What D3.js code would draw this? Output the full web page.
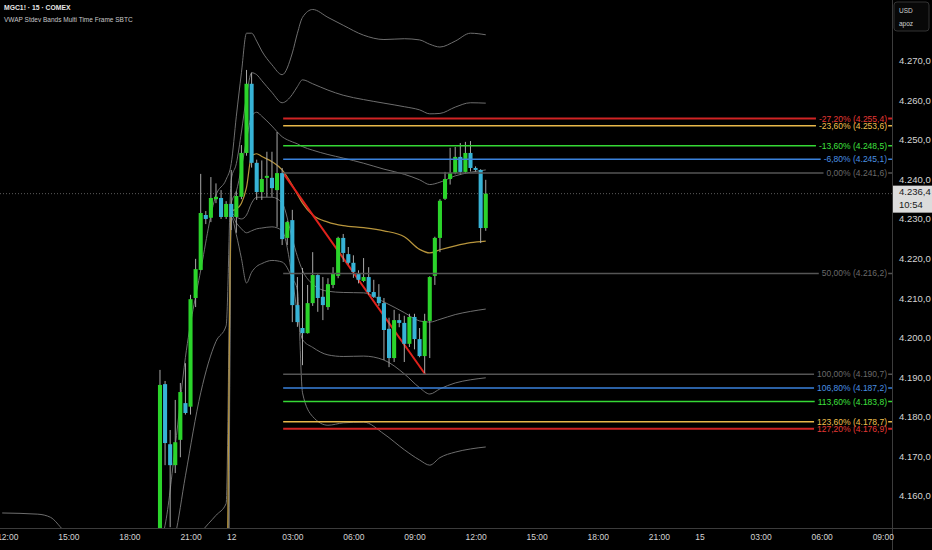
<!DOCTYPE html>
<meta charset="utf-8">
<title>MGC1! 15 COMEX</title>
<style>

body {
  margin: 0;
  background: #000;
}

svg {
  display: block;
}

text {
  font-family: "Liberation Sans", Arial, sans-serif;
}

</style>
<body>

<div id="chart"></div>

<script src="https://cdn.jsdelivr.net/npm/d3@7"></script>
<script>
  // 15 minute bars, bar 0 = 19:30 on the 11th, bar 14 = 00:00 on the 12th
  var candleOpen = [4140, 4188.2, 4173.0, 4167.7, 4174.1, 4183.4, 4182.5, 4210.0, 4217.1, 4231.0,
    4230.3, 4235.0, 4235.3, 4230.5, 4233.8, 4230.5, 4235.6, 4246.7, 4264.2, 4244.2,
    4236.8, 4240.4, 4240.4, 4237.3, 4241.6, 4225.2, 4229.7, 4208.2, 4202.4, 4201.1,
    4208.7, 4215.8, 4210.3, 4207.7, 4213.3, 4215.6, 4225.2, 4221.1, 4218.9, 4216.1,
    4214.3, 4215.3, 4211.5, 4210.3, 4208.7, 4202.2, 4194.8, 4204.4, 4203.7, 4198.4,
    4205.2, 4199.6, 4195.3, 4204.2, 4215.6, 4225.2, 4235.1, 4240.1, 4241.6, 4245.7,
    4241.9, 4246.7, 4242.9, 4242.4, 4227.7];
  var candleHigh = [4191.8, 4189.0, 4176.6, 4184.2, 4188.5, 4193.5, 4210.8, 4219.9, 4241.4, 4232.0,
    4240.6, 4239.0, 4237.3, 4234.5, 4242.4, 4237.0, 4248.7, 4267.7, 4267.0, 4245.0,
    4244.8, 4247.0, 4247.0, 4252.0, 4242.9, 4229.5, 4232.3, 4215.3, 4217.6, 4213.3,
    4221.6, 4216.0, 4215.3, 4215.0, 4217.8, 4225.5, 4226.2, 4222.9, 4220.8, 4217.0,
    4220.1, 4217.8, 4214.6, 4213.5, 4210.0, 4205.0, 4207.0, 4206.0, 4205.5, 4206.0,
    4206.0, 4202.4, 4206.0, 4215.5, 4225.5, 4235.0, 4241.9, 4248.0, 4248.2, 4249.2,
    4249.5, 4249.7, 4243.3, 4242.6, 4239.9];
  var candleLow = [4130, 4167.7, 4152.0, 4165.7, 4169.7, 4180.5, 4180.5, 4207.7, 4217.0, 4228.7,
    4229.2, 4234.0, 4230.0, 4230.0, 4227.2, 4226.5, 4235.0, 4246.0, 4243.0, 4234.8,
    4234.8, 4235.6, 4235.6, 4228.0, 4223.4, 4223.4, 4203.9, 4202.7, 4193.0, 4201.0,
    4208.0, 4206.5, 4204.4, 4207.0, 4212.5, 4215.0, 4219.1, 4218.5, 4215.1, 4213.7,
    4214.0, 4210.8, 4210.0, 4208.0, 4194.3, 4192.5, 4193.8, 4202.6, 4193.8, 4197.6,
    4197.0, 4195.0, 4191.0, 4194.8, 4213.3, 4221.6, 4234.8, 4238.7, 4241.3, 4241.3,
    4241.5, 4242.0, 4242.0, 4223.9, 4227.0];
  var candleClose = [4188.0, 4173.3, 4167.7, 4173.5, 4186.2, 4180.9, 4209.7, 4217.3, 4231.5, 4230.0,
    4235.3, 4235.6, 4230.5, 4233.8, 4230.5, 4235.8, 4246.7, 4264.2, 4244.2, 4236.8,
    4240.1, 4240.9, 4237.8, 4241.6, 4224.9, 4229.2, 4208.2, 4203.9, 4201.1, 4208.7,
    4215.8, 4210.0, 4208.2, 4213.5, 4216.1, 4225.2, 4221.4, 4218.9, 4216.6, 4214.6,
    4215.3, 4211.5, 4210.3, 4208.7, 4201.9, 4194.8, 4204.4, 4203.7, 4198.4, 4205.2,
    4199.6, 4195.3, 4204.2, 4215.3, 4225.2, 4234.6, 4240.1, 4241.6, 4245.7, 4241.9,
    4246.7, 4242.9, 4242.4, 4227.7, 4236.4];

  // vwap and stdev bands, read at these bar indexes (session resets at bar 14)
  var bandIdx = [-31, -24, -21.5, -19, -10, 0, 1, 3, 5, 8, 11, 13,
    14, 15, 16, 17, 18, 19, 20, 22, 24, 26, 27, 28, 30, 33, 36, 40, 44, 48, 51, 53, 55, 58, 61, 64];
  var vwap = [4080, 4082, 4083, 4084, 4090, 4100, 4103, 4108, 4113, 4118, 4123, 4126,
    4232, 4232.5, 4234, 4238, 4246, 4246.5, 4245.8, 4244.5, 4242.4, 4238.5, 4236.2, 4234, 4231,
    4229.2, 4228.3, 4227.8, 4227, 4225.5, 4222.3, 4221.4, 4222.2, 4223.2, 4224, 4224.4];
  var upper1 = [4115, 4116, 4117, 4117, 4122, 4132, 4135, 4140, 4144, 4150.5, 4155, 4158,
    4234, 4237, 4243, 4250, 4256, 4257, 4256, 4253.5, 4250.8, 4249.5, 4249, 4248.3, 4247.4,
    4246.3, 4245.4, 4244.1, 4242.6, 4241.3, 4239.9, 4238.7, 4239.3, 4240.9, 4241.8, 4242.4];
  var upper2 = [4140, 4141, 4141, 4141, 4142, 4140, 4143, 4150, 4165, 4186, 4199, 4203,
    4240, 4244, 4252, 4261, 4267, 4266.5, 4265, 4262, 4259.4, 4261.5, 4263.5, 4265.2, 4264.2,
    4262.6, 4261.3, 4260.2, 4259.3, 4258.4, 4257.6, 4256.6, 4256.7, 4258.3, 4259.4, 4259.3];
  var upper3 = [4155.6, 4155.3, 4154.5, 4151.3, 4144, 4148, 4152.5, 4172.5, 4195, 4217, 4236, 4240,
    4244, 4256, 4267, 4277, 4277, 4275, 4272.5, 4269, 4266.5, 4272, 4277, 4281, 4283,
    4281, 4279, 4276.5, 4275.4, 4275.6, 4275.3, 4274.2, 4273.5, 4275, 4277, 4276.6];
  var lower1 = [4040, 4042, 4043, 4045, 4052, 4065, 4068, 4072, 4078, 4084, 4090, 4094,
    4231.5, 4230.5, 4230, 4231, 4234, 4235.5, 4235.5, 4235.5, 4234, 4225, 4220.5, 4217, 4213.5,
    4211.7, 4211.4, 4211.3, 4209, 4206.3, 4204.2, 4203.9, 4204.6, 4205.8, 4206.6, 4207.2];
  var lower2 = [4000, 4002, 4003, 4005, 4015, 4030, 4033, 4038, 4042, 4050, 4056, 4060,
    4231, 4229, 4227.5, 4226.5, 4227, 4227.5, 4227.7, 4228, 4227, 4215, 4206, 4199.5, 4197.5,
    4195.6, 4195.2, 4195.3, 4194.3, 4190.8, 4187.3, 4185.7, 4187, 4188.5, 4189.3, 4189.8];
  var lower3 = [3960, 3962, 3963, 3965, 3978, 3995, 3998, 4004, 4008, 4016, 4022, 4026,
    4230.5, 4226, 4220, 4213.8, 4216.5, 4218, 4218.7, 4219.5, 4219.1, 4215, 4212, 4186, 4180,
    4177.8, 4178.4, 4178.6, 4175.6, 4171.6, 4169, 4167.7, 4169.6, 4171, 4171.8, 4172.3];

  // fib retracement drawn from bar 24.2 (4241,6) down to bar 52.1 (4190,7)
  var fibRatios = [-0.272, -0.236, -0.136, -0.068, 0, 0.5, 1, 1.068, 1.136, 1.236, 1.272];
  var fibPrices = [4255.4, 4253.6, 4248.5, 4245.1, 4241.6, 4216.2, 4190.7, 4187.2, 4183.8, 4178.7, 4176.9];
  var fibAnchorIdx = [24.2, 52.1];
  var fibAnchorPrice = [4241.6, 4190.7];

  var priceTicks = [4160, 4170, 4180, 4190, 4200, 4210, 4220, 4230, 4240, 4250, 4260, 4270];
  var timeTickIdx = [-30, -18, -6, 6, 14, 26, 38, 50, 62, 74, 86, 98, 106, 118, 130, 142];
  var timeTickLabels = ["12:00", "15:00", "18:00", "21:00", "12", "03:00", "06:00", "09:00",
    "12:00", "15:00", "18:00", "21:00", "15", "03:00", "06:00", "09:00"];
  var lastPrice = 4236.4;
  var barCountdown = "10:54";

  var width = 932,
      height = 550,
      plotW = 892,
      plotH = 528;

  var loc = d3.formatLocale({decimal: ",", thousands: ".", grouping: [3], currency: ["", ""], minus: "-"});
  var fmtPrice = loc.format(",.1f"),
      fmtPct = loc.format(".2f");

  var x = d3.scaleLinear().domain([-31.43, 143.81]).range([0, plotW]);
  var y = d3.scaleLinear().domain([4151.8, 4285.4]).range([plotH, 0]);
  var step = x(1) - x(0);

  var svg = d3.select("#chart").append("svg")
      .attr("width", width)
      .attr("height", height)
      .style("background", "#000");

  svg.append("clipPath").attr("id", "plot")
    .append("rect").attr("width", plotW).attr("height", plotH);

  var plot = svg.append("g").attr("clip-path", "url(#plot)");

  // bands
  var bandLine = d3.line()
      .x(function(d, i) { return x(bandIdx[i]); })
      .y(function(d) { return y(d); })
      .curve(d3.curveMonotoneX);

  [upper3, upper2, upper1, lower1, lower2, lower3].forEach(function(s) {
    plot.append("path")
        .attr("d", bandLine(s))
        .attr("fill", "none")
        .attr("stroke", "#6e6e6e")
        .attr("stroke-width", 1);
  });

  plot.append("path")
      .attr("d", bandLine(vwap))
      .attr("fill", "none")
      .attr("stroke", "#b8953c")
      .attr("stroke-width", 1.2);

  // last price dotted line
  plot.append("line")
      .attr("x1", 0).attr("x2", plotW)
      .attr("y1", y(lastPrice)).attr("y2", y(lastPrice))
      .attr("stroke", "#5a5a5a")
      .attr("stroke-dasharray", "1,2");

  // fib levels
  var fibPalette = {"0.272": "#d02424", "0.236": "#e8b84a", "0.136": "#35d835", "0.068": "#3a82dc",
    "0": "#555555", "0.5": "#555555", "1": "#555555"};
  var fibText = {"0.272": "#e53935", "0.236": "#f2c14e", "0.136": "#3fe03f", "0.068": "#4a90e2",
    "0": "#6a6a6a", "0.5": "#6a6a6a", "1": "#6a6a6a"};
  function fibKey(r) {
    var k = Math.abs(r) > 1 ? Math.abs(r) - 1 : Math.abs(r);
    k = Math.round(k * 1000) / 1000;
    if (r === 1) k = 1;
    return String(k);
  }

  var fibG = svg.append("g");
  fibRatios.forEach(function(r, i) {
    var yy = y(fibPrices[i]), key = fibKey(r);
    fibG.append("line")
        .attr("x1", x(fibAnchorIdx[0])).attr("x2", plotW)
        .attr("y1", yy).attr("y2", yy)
        .attr("stroke", fibPalette[key])
        .attr("stroke-width", key === "0.272" ? 2 : 1.5);
  });
  fibRatios.forEach(function(r, i) {
    var yy = y(fibPrices[i]), key = fibKey(r);
    var t = fibG.append("text")
        .attr("x", plotW - 5)
        .attr("y", yy)
        .attr("dy", "0.35em")
        .attr("text-anchor", "end")
        .attr("font-size", 8.5)
        .attr("fill", fibText[key])
        .text(fmtPct(r * 100) + "% (" + fmtPrice(fibPrices[i]) + ")");
    var b = t.node().getBBox();
    fibG.insert("rect", function() { return t.node(); })
        .attr("x", b.x - 3).attr("y", yy - 1.5)
        .attr("width", b.width + 4).attr("height", 3)
        .attr("fill", "#000");
  });

  // trend line between the fib anchors
  plot.append("line")
      .attr("x1", x(fibAnchorIdx[0])).attr("y1", y(fibAnchorPrice[0]))
      .attr("x2", x(fibAnchorIdx[1])).attr("y2", y(fibAnchorPrice[1]))
      .attr("stroke", "#e0221c")
      .attr("stroke-width", 2);

  // candles
  var bars = d3.range(candleOpen.length);
  plot.selectAll("line.wick")
    .data(bars)
    .join("line")
      .attr("class", "wick")
      .attr("x1", function(i) { return x(i); })
      .attr("x2", function(i) { return x(i); })
      .attr("y1", function(i) { return y(candleHigh[i]); })
      .attr("y2", function(i) { return y(candleLow[i]); })
      .attr("stroke", "#a8a8a8")
      .attr("stroke-width", 1);

  plot.selectAll("rect.body")
    .data(bars)
    .join("rect")
      .attr("class", "body")
      .attr("x", function(i) { return x(i) - step * 0.4; })
      .attr("width", step * 0.8)
      .attr("y", function(i) { return y(Math.max(candleOpen[i], candleClose[i])); })
      .attr("height", function(i) { return Math.max(1, Math.abs(y(candleOpen[i]) - y(candleClose[i]))); })
      .attr("fill", function(i) { return candleClose[i] >= candleOpen[i] ? "#2bd42b" : "#37b3d6"; });

  // axes
  svg.append("line")
      .attr("x1", 0).attr("x2", width)
      .attr("y1", plotH + 0.5).attr("y2", plotH + 0.5)
      .attr("stroke", "#3c3c3c");
  svg.append("line")
      .attr("x1", plotW + 0.5).attr("x2", plotW + 0.5)
      .attr("y1", 0).attr("y2", height)
      .attr("stroke", "#3c3c3c");

  var yAxis = svg.append("g")
      .attr("transform", "translate(" + plotW + ",0)")
      .call(d3.axisRight(y).tickValues(priceTicks).tickSize(0).tickPadding(7).tickFormat(fmtPrice));
  var xAxis = svg.append("g")
      .attr("transform", "translate(0," + plotH + ")")
      .call(d3.axisBottom(x).tickValues(timeTickIdx).tickSize(0).tickPadding(6)
        .tickFormat(function(d, i) { return timeTickLabels[i]; }));

  [yAxis, xAxis].forEach(function(a) {
    a.select(".domain").remove();
    a.selectAll("text")
        .attr("fill", "#d4d4d4")
        .attr("font-family", "Liberation Sans, Arial, sans-serif");
  });
  yAxis.selectAll("text").attr("font-size", 9.5);
  xAxis.selectAll("text").attr("font-size", 8.5);

  // last price tag
  var tag = svg.append("g").attr("transform", "translate(" + (plotW + 1) + "," + (y(lastPrice) - 8) + ")");
  tag.append("rect")
      .attr("width", width - plotW - 1).attr("height", 27)
      .attr("fill", "#dcdcdc");
  tag.append("text")
      .attr("x", 6).attr("y", 9)
      .attr("font-size", 9.5)
      .attr("fill", "#1a1a1a")
      .text(fmtPrice(lastPrice));
  tag.append("text")
      .attr("x", 6).attr("y", 22)
      .attr("font-size", 9.5)
      .attr("fill", "#1a1a1a")
      .text(barCountdown);

  // currency box
  var cur = svg.append("g").attr("transform", "translate(" + (plotW + 2) + ",2)");
  cur.append("rect")
      .attr("width", 35).attr("height", 29).attr("rx", 3)
      .attr("fill", "#080808").attr("stroke", "#333");
  cur.append("text").attr("x", 5).attr("y", 11).attr("font-size", 6.5).attr("fill", "#d0d0d0").text("USD");
  cur.append("text").attr("x", 5).attr("y", 24).attr("font-size", 6.5).attr("fill", "#d0d0d0").text("apoz");

  // title
  svg.append("text")
      .attr("x", 4).attr("y", 10)
      .attr("font-size", 6.8)
      .attr("font-weight", "bold")
      .attr("fill", "#e6e6e6")
      .text("MGC1! · 15 · COMEX");
  svg.append("text")
      .attr("x", 4).attr("y", 22)
      .attr("font-size", 6.5)
      .attr("fill", "#c8c8c8")
      .text("VWAP Stdev Bands Multi Time Frame SBTC");

</script>

</body>
</html>
